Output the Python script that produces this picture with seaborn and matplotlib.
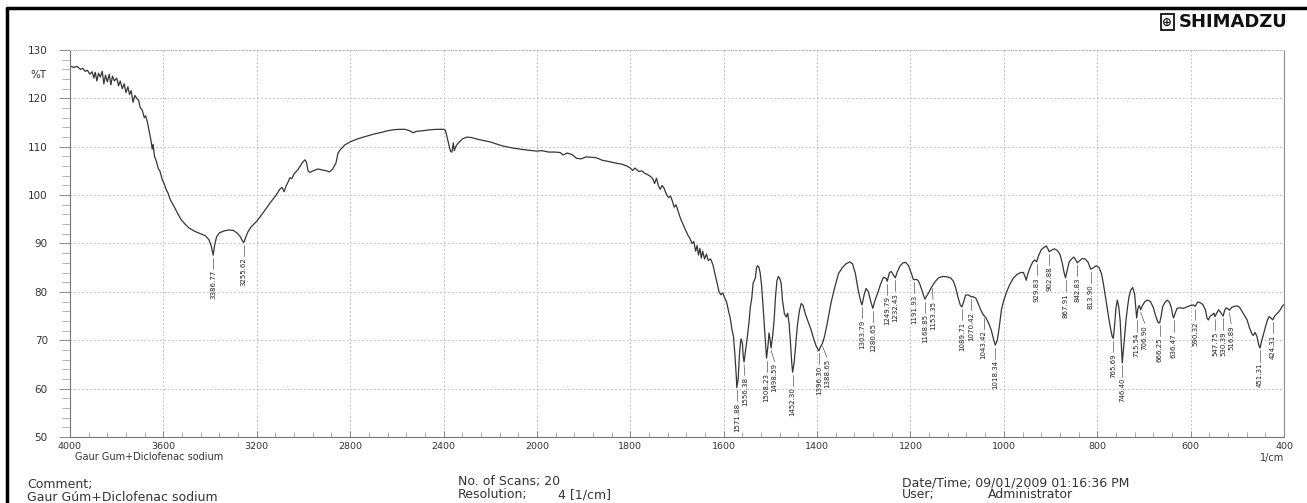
import numpy as np
import matplotlib
matplotlib.use("Agg")
import matplotlib.pyplot as plt
import seaborn as sns
import pandas as pd
from matplotlib.ticker import FixedLocator, NullFormatter
from matplotlib.lines import Line2D

# ---------------- data ----------------
wavenumber = [
    4000, 3985, 3970, 3955, 3945, 3935, 3925, 3915, 3905, 3898, 3892, 3885, 3878, 3870,
    3862, 3855, 3848, 3840, 3832, 3825, 3818, 3810, 3800, 3792, 3785, 3776, 3768, 3760,
    3752, 3745, 3738, 3730, 3722, 3714, 3706, 3700, 3690, 3682, 3676, 3668, 3660, 3652,
    3648, 3644, 3638, 3630, 3622, 3615, 3605, 3597, 3590, 3580, 3570, 3558, 3542, 3525,
    3507, 3490, 3465, 3440, 3420, 3405, 3395, 3386.77, 3380, 3372, 3360, 3340, 3320, 3300,
    3285, 3272, 3262, 3255.62, 3248, 3238, 3225, 3200, 3186, 3160, 3143, 3120, 3100, 3092,
    3083, 3075, 3065, 3058, 3050, 3040, 3025, 3015, 3005, 2994, 2988, 2980, 2972, 2960,
    2950, 2938, 2920, 2900, 2888, 2875, 2861, 2852, 2840, 2822, 2800, 2770, 2736, 2700,
    2672, 2640, 2617, 2590, 2565, 2545, 2530, 2515, 2490, 2460, 2430, 2400, 2392, 2380,
    2370, 2364, 2358, 2354, 2348, 2340, 2320, 2300, 2280, 2250, 2200, 2150, 2100, 2070,
    2040, 2000, 1990, 1975, 1961, 1950, 1944, 1935, 1925, 1915, 1905, 1895, 1880, 1872,
    1860, 1844, 1830, 1818, 1807, 1800, 1795, 1790, 1782, 1775, 1769, 1762, 1756, 1752,
    1748, 1744, 1740, 1736, 1732, 1728, 1722, 1718, 1714, 1710, 1706, 1702, 1698, 1694,
    1690, 1685, 1680, 1676, 1672, 1668, 1664, 1660, 1657, 1654, 1651, 1648, 1645, 1641,
    1637, 1633, 1628, 1623, 1618, 1614, 1610, 1606, 1602, 1598, 1594, 1590, 1586, 1582,
    1579, 1576, 1573, 1571.88, 1569, 1566, 1563, 1560, 1558, 1556.38, 1553, 1549, 1546,
    1543, 1540, 1537, 1535, 1532, 1530, 1528, 1525, 1522, 1519, 1516, 1513, 1510, 1508.23,
    1505, 1503, 1501, 1498.59, 1495, 1492, 1489, 1486, 1483, 1480, 1477, 1474, 1470, 1466,
    1463, 1460, 1457, 1454, 1452.30, 1449, 1446, 1442, 1438, 1434, 1430, 1425, 1419, 1413,
    1407, 1402, 1396.30, 1392, 1388.65, 1384, 1378, 1370, 1362, 1354, 1346, 1338, 1330,
    1324, 1318, 1312, 1307, 1303.79, 1299, 1295, 1290, 1285, 1280.65, 1276, 1270, 1264,
    1258, 1252, 1249.79, 1245, 1241, 1236, 1232.43, 1228, 1222, 1216, 1210, 1204, 1198,
    1194, 1191.93, 1188, 1184, 1180, 1175, 1171, 1168.85, 1165, 1161, 1157, 1153.35, 1148,
    1140, 1130, 1122, 1114, 1108, 1103, 1098, 1093, 1089.71, 1086, 1082, 1077, 1073,
    1070.42, 1066, 1060, 1055, 1050, 1046, 1043.42, 1038, 1032, 1027, 1022, 1018.34, 1014,
    1010, 1005, 1000, 994, 988, 980, 972, 964, 958, 954, 952, 949, 944, 938, 934, 929.83,
    926, 920, 914, 909, 904, 902.88, 898, 892, 886, 880, 875, 871, 867.91, 864, 860, 855,
    850, 846, 842.83, 838, 832, 826, 820, 816, 813.90, 808, 802, 796, 791, 787, 783, 779,
    775, 771, 768, 765.69, 763, 760, 757, 754, 751, 748, 746.40, 744, 741, 738, 735, 732,
    728, 724, 720, 718, 715.54, 713, 710, 706.90, 703, 698, 692, 686, 680, 676, 672, 669,
    666.25, 663, 660, 655, 650, 645, 641, 638, 636.47, 633, 629, 622, 615, 608, 600, 594,
    590.32, 585, 580, 574, 568, 565, 562, 558, 553, 550, 547.75, 543, 540, 536, 532,
    530.39, 527, 524, 520, 516.89, 512, 506, 500, 495, 489, 484, 479, 474, 469, 466, 462,
    458, 454, 451.31, 448, 444, 440, 436, 432, 428, 424.31, 420, 416, 412, 408, 404, 400,
]
transmittance = [
    126.7, 126.4, 126.6, 126.0, 126.2, 125.6, 125.8, 125.0, 125.5, 124.2, 125.4, 123.6, 125.2, 124.4,
    125.6, 123.0, 124.8, 123.4, 125.0, 122.8, 124.6, 123.6, 124.2, 122.6, 123.6, 122.0, 123.0, 121.2,
    122.4, 120.8, 121.6, 119.2, 120.6, 120.0, 119.6, 118.2, 117.5, 116.0, 116.4, 115.0, 113.0, 111.0,
    109.5, 110.5, 108.0, 107.0, 105.5, 105.0, 103.2, 102.4, 101.4, 100.4, 99.0, 98.0, 96.5, 95.0,
    94.0, 93.2, 92.5, 92.0, 91.6, 90.8, 89.5, 87.6, 89.8, 91.4, 92.2, 92.6, 92.8, 92.7,
    92.2, 91.5, 90.6, 90.2, 91.2, 92.4, 93.4, 94.6, 95.5, 97.2, 98.4, 99.8, 101.3, 101.6,
    100.7, 101.8, 102.8, 103.6, 103.4, 104.4, 105.2, 105.9, 106.7, 107.3, 106.9, 105.0, 104.7, 105.0,
    105.2, 105.4, 105.2, 105.0, 104.8, 105.4, 106.6, 108.7, 109.5, 110.4, 111.0, 111.6, 112.1, 112.6,
    112.9, 113.3, 113.5, 113.6, 113.6, 113.3, 112.9, 113.2, 113.3, 113.5, 113.6, 113.6, 113.4, 111.0,
    109.0, 108.9, 110.8, 109.2, 110.0, 110.6, 111.6, 112.0, 111.9, 111.5, 111.0, 110.2, 109.7, 109.5,
    109.3, 109.1, 109.2, 108.9, 108.9, 108.8, 108.3, 108.7, 108.4, 107.6, 107.5, 107.9, 107.8, 107.7,
    107.2, 106.9, 106.6, 106.4, 106.0, 105.6, 105.1, 105.6, 104.9, 105.0, 104.5, 104.2, 103.8, 103.4,
    102.4, 103.5, 102.0, 101.2, 102.0, 101.5, 100.0, 99.5, 99.8, 98.8, 97.5, 98.0, 96.8, 95.6,
    94.6, 93.5, 92.4, 91.6, 91.0, 90.0, 90.4, 88.4, 89.6, 87.6, 89.0, 87.0, 88.4, 86.8,
    87.8, 86.5, 86.8, 85.6, 83.4, 81.8, 80.0, 79.4, 79.8, 78.8, 78.0, 76.2, 74.6, 72.0,
    70.8, 67.0, 62.5, 60.2, 62.0, 67.5, 70.3, 69.5, 66.5, 65.5, 68.0, 71.0, 73.5,
    76.8, 78.6, 81.8, 82.2, 83.0, 84.8, 85.4, 85.2, 84.0, 81.5, 77.5, 73.0, 68.8, 66.3,
    69.0, 71.5, 70.4, 68.4, 71.0, 74.2, 79.0, 82.3, 83.2, 82.8, 81.8, 78.2, 75.5, 74.8,
    75.6, 73.5, 69.5, 65.0, 63.4, 65.5, 68.8, 73.2, 76.0, 77.6, 77.2, 75.4, 73.8, 72.2,
    70.2, 68.8, 67.8, 68.8, 69.3, 70.8, 73.6, 77.8, 81.0, 83.8, 85.0, 85.8, 86.2,
    85.8, 83.8, 80.4, 78.2, 77.3, 79.5, 80.7, 80.0, 78.0, 76.6, 78.2, 79.8, 81.6,
    83.0, 82.8, 82.2, 84.0, 84.2, 83.4, 82.9, 84.2, 85.4, 86.0, 86.1, 85.4, 83.8,
    82.6, 82.5, 82.6, 82.4, 81.6, 80.2, 79.0, 78.5, 79.2, 79.8, 80.6, 81.2, 82.0,
    82.9, 83.2, 83.1, 82.9, 82.2, 80.8, 78.8, 77.2, 76.9, 78.0, 79.3, 79.4, 79.2,
    79.0, 79.0, 78.7, 77.6, 76.4, 75.6, 75.2, 74.6, 73.4, 72.1, 70.2, 69.0, 70.0,
    72.6, 76.4, 78.3, 80.0, 81.4, 82.8, 83.6, 84.0, 84.0, 83.0, 82.4, 83.6, 85.0, 86.2, 86.6, 86.2,
    87.4, 88.7, 89.2, 89.5, 88.6, 88.3, 88.6, 88.9, 88.6, 87.8, 86.0, 84.0, 82.9, 84.6, 86.2, 86.8,
    87.2, 86.6, 86.0, 86.4, 86.9, 86.8, 86.2, 85.2, 84.7, 85.0, 85.4, 85.0, 83.8, 81.8, 79.4, 76.9,
    74.4, 72.2, 70.8, 70.4, 72.8, 76.6, 78.3, 77.0, 74.2, 68.5, 65.3, 68.0, 71.5, 74.5, 76.9, 79.0,
    80.4, 80.9, 79.6, 77.4, 74.6, 76.5, 77.2, 76.3, 77.2, 78.0, 78.3, 78.0, 76.8, 75.4, 74.2, 73.6,
    73.6, 75.0, 76.9, 77.8, 78.3, 77.8, 76.6, 75.0, 74.6, 75.6, 76.6, 76.7, 76.6, 76.9, 77.2, 77.3,
    77.0, 77.9, 77.8, 77.4, 76.2, 74.6, 74.2, 75.0, 75.3, 75.6, 74.9, 75.8, 76.3, 75.8, 75.2,
    75.0, 76.2, 76.7, 76.5, 76.2, 76.8, 77.0, 77.1, 76.8, 75.8, 75.0, 74.2, 72.6, 71.4, 71.0, 71.6,
    70.8, 69.0, 68.4, 69.8, 71.2, 72.7, 74.0, 74.9, 74.6, 74.2, 75.0, 75.4, 75.8, 76.3, 77.0, 77.4,
]
peak_labels = [
    3386.77, 3255.62, 1571.88, 1556.38, 1508.23, 1498.59, 1452.30, 1396.30, 1388.65,
    1303.79, 1280.65, 1249.79, 1232.43, 1191.93, 1168.85, 1153.35, 1089.71, 1070.42,
    1043.42, 1018.34, 929.83, 902.88, 867.91, 842.83, 813.90, 765.69, 746.40, 715.54,
    706.90, 666.25, 636.47, 590.32, 547.75, 530.39, 516.89, 451.31, 424.31,
]
y_ticks = [50, 60, 70, 80, 90, 100, 110, 120, 130]
x_major_ticks = [4000, 3600, 3200, 2800, 2400, 2000, 1800, 1600, 1400, 1200, 1000, 800, 600, 400]
sample_name = "Gaur Gum+Diclofenac sodium"

# ---------------- figure ----------------
sns.set_theme(style="white")
plt.rcParams['font.family'] = ['DejaVu Sans']

W, H = 1307, 503
fig = plt.figure(figsize=(W / 100, H / 100), dpi=100)
L, R, T, B = 70, 1284, 50, 437
ax = fig.add_axes([L / W, 1 - B / H, (R - L) / W, (B - T) / H])


def fwd(x):
    x = np.asarray(x, dtype=float)
    return np.where(x > 2000, 2000 + (x - 2000) / 2.0, x)


def inv(p):
    p = np.asarray(p, dtype=float)
    return np.where(p > 2000, 2000 + (p - 2000) * 2.0, p)


ax.set_xscale('function', functions=(fwd, inv))

df = pd.DataFrame({'wn': wavenumber, 'T': transmittance})
sns.lineplot(data=df, x='wn', y='T', ax=ax, color='#363636', linewidth=0.9,
             sort=False, estimator=None, legend=False)

ax.set_xlim(4000, 400)
ax.set_ylim(50, 130)
ax.set_xlabel('')
ax.set_ylabel('')

# ticks
minor_x = np.concatenate([np.arange(4000, 2000, -80), np.arange(2000, 399, -40)])
ax.xaxis.set_major_locator(FixedLocator(x_major_ticks))
ax.xaxis.set_minor_locator(FixedLocator(minor_x))
ax.xaxis.set_minor_formatter(NullFormatter())
ax.set_xticklabels([str(v) for v in x_major_ticks])
ax.yaxis.set_major_locator(FixedLocator(y_ticks))
ax.yaxis.set_minor_locator(FixedLocator(np.arange(50, 131, 2)))
ax.yaxis.set_minor_formatter(NullFormatter())

ax.tick_params(axis='x', which='major', direction='in', length=4.5, width=0.6,
               color='#777777', labelsize=6.8, labelcolor='#333333', pad=3.5, bottom=True)
ax.tick_params(axis='x', which='minor', direction='in', length=3.5, width=0.5,
               color='#888888', bottom=True)
ax.tick_params(axis='y', which='major', direction='out', length=8, width=0.6,
               color='#777777', labelsize=7.5, labelcolor='#333333', pad=8, left=True)
ax.tick_params(axis='y', which='minor', direction='out', length=5.5, width=0.5,
               color='#999999', left=True)

ax.grid(True, which='major', color='#c4c4c4', linestyle=(0, (2, 2)), linewidth=0.7)
ax.set_axisbelow(True)

for side, col in [('left', '#777777'), ('bottom', '#777777'), ('right', '#8a8a8a')]:
    ax.spines[side].set_color(col)
    ax.spines[side].set_linewidth(0.8)
ax.spines['top'].set_color('#bdbdbd')
ax.spines['top'].set_linestyle((0, (2, 2)))
ax.spines['top'].set_linewidth(0.7)

# %T label
ax.text(-0.019, 124.8, '%T', transform=ax.get_yaxis_transform(), ha='right', va='center',
        fontsize=7.5, color='#333333')

# peak labels (crowded labels are nudged apart to keep a minimum spacing in pixels)
wn_asc = np.array(wavenumber)[::-1]
t_asc = np.array(transmittance)[::-1]
min_gap = 8.0
prev_x = -1e9
for p in sorted(peak_labels, reverse=True):
    tv = float(np.interp(p, wn_asc, t_asc))
    px, py = ax.transData.transform((p, tv))
    lx = max(px, prev_x + min_gap)
    prev_x = lx
    lab_wn = ax.transData.inverted().transform((lx, py))[0]
    ax.plot([p, lab_wn], [tv - 0.5, tv - 2.8], color='#555555', linewidth=0.5)
    ax.text(lab_wn, tv - 3.1, f"{p:.2f}", rotation=90, ha='center', va='top', fontsize=5,
            color='#222222', family=['Liberation Sans Narrow', 'DejaVu Sans'])

# texts under axis
ax.text(0.004, -0.04, sample_name, transform=ax.transAxes, ha='left', va='top',
        fontsize=7, color='#333333')
ax.text(1.0, -0.042, '1/cm', transform=ax.transAxes, ha='right', va='top',
        fontsize=7, color='#333333')

# footer
fc = '#333333'
fig.text(27 / W, 1 - 488 / H, 'Comment;', ha='left', va='baseline', fontsize=9, color=fc)
fig.text(27 / W, 1 - 501 / H, 'Gaur Gúm+Diclofenac sodium', ha='left', va='baseline',
         fontsize=9, color=fc)
fig.text(458 / W, 1 - 485 / H, 'No. of Scans; 20', ha='left', va='baseline', fontsize=9, color=fc)
fig.text(458 / W, 1 - 498 / H, 'Resolution;', ha='left', va='baseline', fontsize=9, color=fc)
fig.text(558 / W, 1 - 498 / H, '4 [1/cm]', ha='left', va='baseline', fontsize=9, color=fc)
fig.text(902 / W, 1 - 486 / H, 'Date/Time; 09/01/2009 01:16:36 PM', ha='left', va='baseline',
         fontsize=9, color=fc)
fig.text(902 / W, 1 - 498 / H, 'User;', ha='left', va='baseline', fontsize=9, color=fc)
fig.text(988 / W, 1 - 498 / H, 'Administrator', ha='left', va='baseline', fontsize=9, color=fc)

# brand
brand = fig.text(1287 / W, 1 - 22 / H, 'SHIMADZU', ha='right', va='center', fontsize=13,
                 fontweight='bold', color='#111111')
fig.canvas.draw()
bb = brand.get_window_extent()
fig.text((bb.x0 - 11) / W, 1 - 22 / H, '⊕', ha='center', va='center', fontsize=8.5,
         fontweight='bold', color='#111111',
         bbox=dict(boxstyle='square,pad=0.12', facecolor='white', edgecolor='#111111', linewidth=1.3))

# page frame (left + top edges)
fig.add_artist(Line2D([7 / W, 7 / W], [0, 1 - 8 / H], transform=fig.transFigure,
                      color='black', linewidth=2.5))
fig.add_artist(Line2D([7 / W, 1], [1 - 8 / H, 1 - 8 / H], transform=fig.transFigure,
                      color='black', linewidth=2.5))

fig.savefig('out.png', dpi=100, facecolor='white')
